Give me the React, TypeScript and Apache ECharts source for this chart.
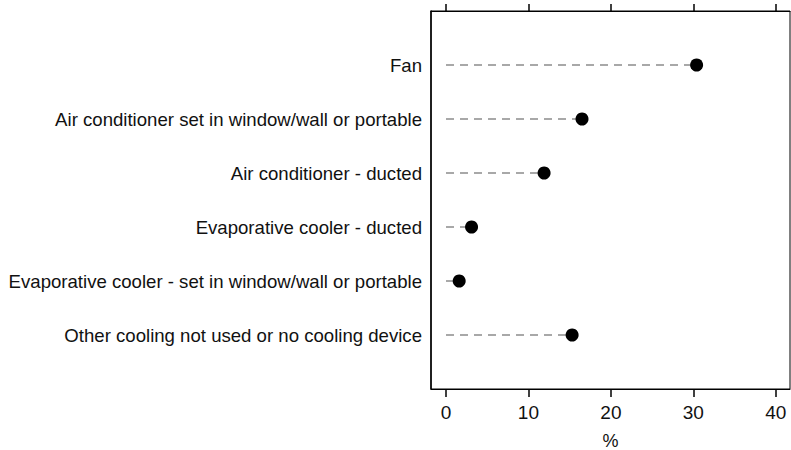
import React, { useEffect, useRef } from "react";
import * as echarts from "echarts";

const categories = [
  "Fan",
  "Air conditioner set in window/wall or portable",
  "Air conditioner - ducted",
  "Evaporative cooler - ducted",
  "Evaporative cooler - set in window/wall or portable",
  "Other cooling not used or no cooling device",
];
const values = [30.4, 16.5, 11.9, 3.1, 1.6, 15.3];
const xTicks = [0, 10, 20, 30, 40];
const xTitle = "%";

export default function App() {
  const ref = useRef<HTMLDivElement>(null);
  useEffect(() => {
    if (!ref.current) return;
    const chart = echarts.init(ref.current, undefined, { renderer: "svg" });
    const font = "'Liberation Sans', Arial, sans-serif";
    const pts = values.map((v, i) => [v, i + 1]);
    chart.setOption({
      animation: false,
      grid: {
        left: 431,
        right: 1,
        top: 11,
        bottom: 61,
        show: true,
        borderColor: "#000",
        borderWidth: 1,
        containLabel: false,
        outerBoundsMode: "none",
      },
      xAxis: [
        {
          type: "value",
          min: -1.82,
          max: 41.73,
          position: "bottom",
          name: xTitle,
          nameLocation: "middle",
          nameGap: 44,
          nameTextStyle: { fontFamily: font, fontSize: 18, lineHeight: 15, color: "#111" },
          axisLine: { show: true, onZero: false, lineStyle: { color: "#000", width: 1 } },
          axisTick: {
            show: true,
            inside: false,
            length: 8,
            lineStyle: { color: "#000", width: 1.5 },
            customValues: xTicks,
          },
          axisLabel: {
            show: true,
            margin: 14,
            fontFamily: font,
            fontSize: 19,
            color: "#111",
            customValues: xTicks,
          },
          splitLine: { show: false },
        },
        {
          type: "value",
          min: -1.82,
          max: 41.73,
          position: "top",
          axisLine: { show: true, onZero: false, lineStyle: { color: "#000", width: 1 } },
          axisTick: {
            show: true,
            inside: false,
            length: 7,
            lineStyle: { color: "#000", width: 1.5 },
            customValues: xTicks,
          },
          axisLabel: { show: false },
          splitLine: { show: false },
        },
      ],
      yAxis: {
        type: "value",
        min: 0,
        max: 7,
        interval: 1,
        inverse: true,
        axisLine: { show: true, onZero: false, lineStyle: { color: "#000", width: 1.5 } },
        axisTick: { show: false },
        splitLine: { show: false },
        axisLabel: {
          margin: 9,
          fontFamily: font,
          fontSize: 18.6,
          color: "#111",
          formatter: (v: number) =>
            v >= 1 && v <= categories.length ? categories[v - 1] : "",
        },
      },
      series: [
        {
          type: "custom",
          xAxisIndex: 0,
          data: pts,
          renderItem: (params: any, api: any) => {
            const v = api.value(0);
            const y = api.value(1);
            const p0 = api.coord([0, y]);
            const p1 = api.coord([v, y]);
            return {
              type: "line",
              shape: { x1: p0[0], y1: p0[1], x2: p1[0], y2: p1[1] },
              style: { stroke: "#8c8c8c", lineWidth: 1.5, lineDash: [8, 6] },
            };
          },
          z: 1,
        },
        {
          type: "scatter",
          xAxisIndex: 0,
          data: pts,
          symbol: "circle",
          symbolSize: 13,
          itemStyle: { color: "#000", opacity: 1 },
          z: 3,
        },
      ],
    });
    return () => chart.dispose();
  }, []);
  return <div ref={ref} style={{ width: 791, height: 450, position: "absolute", left: 0, top: 0 }} />;
}
